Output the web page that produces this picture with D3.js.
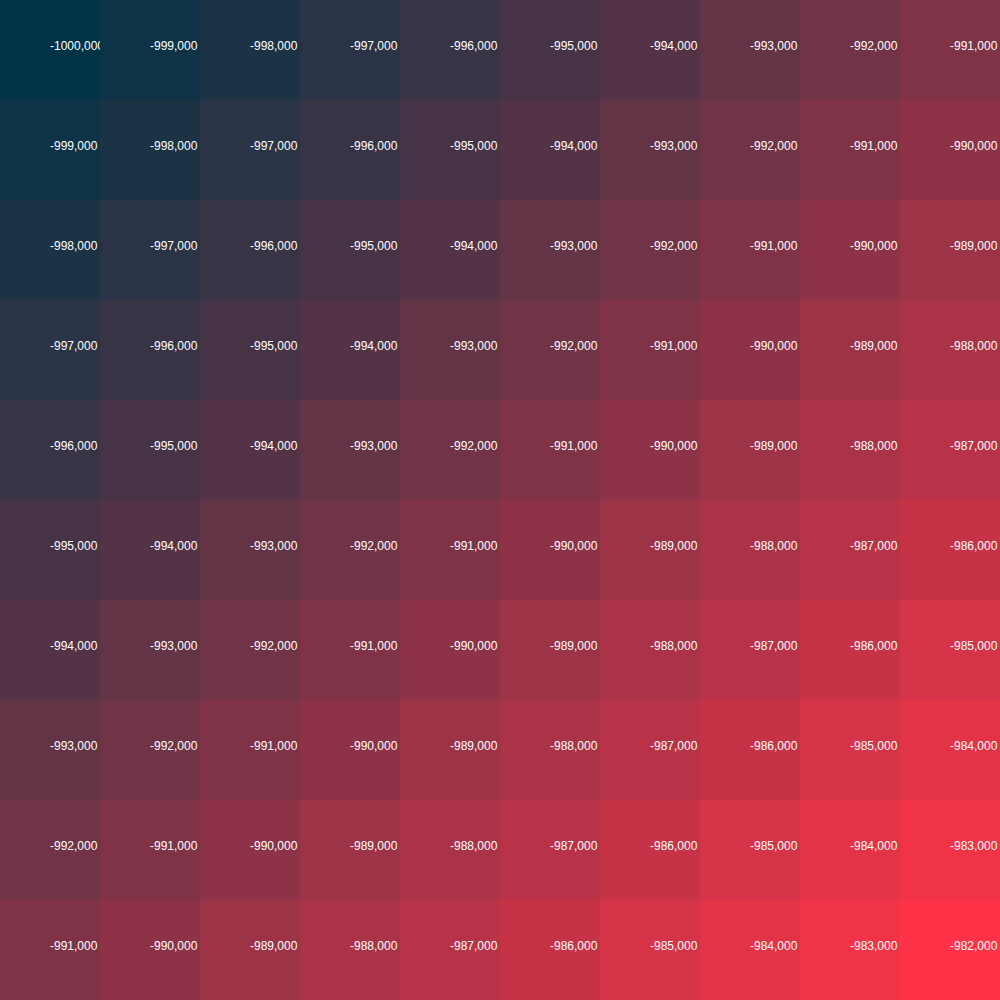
<!DOCTYPE html>
<html>
<head>
<meta charset="utf-8">
<script src="https://cdn.jsdelivr.net/npm/d3@7"></script>
<style>
html,body{margin:0;padding:0;background:#fff;}
svg{display:block;}
text{font-family:"Liberation Sans",Arial,sans-serif;font-size:12px;fill:#fff;}
</style>
</head>
<body>
<svg id="chart" width="1000" height="1000"></svg>
<script>
const rows = [0,1,2,3,4,5,6,7,8,9];
const cols = [0,1,2,3,4,5,6,7,8,9];
const values = [
  [-1000000,-999000,-998000,-997000,-996000,-995000,-994000,-993000,-992000,-991000],
  [-999000,-998000,-997000,-996000,-995000,-994000,-993000,-992000,-991000,-990000],
  [-998000,-997000,-996000,-995000,-994000,-993000,-992000,-991000,-990000,-989000],
  [-997000,-996000,-995000,-994000,-993000,-992000,-991000,-990000,-989000,-988000],
  [-996000,-995000,-994000,-993000,-992000,-991000,-990000,-989000,-988000,-987000],
  [-995000,-994000,-993000,-992000,-991000,-990000,-989000,-988000,-987000,-986000],
  [-994000,-993000,-992000,-991000,-990000,-989000,-988000,-987000,-986000,-985000],
  [-993000,-992000,-991000,-990000,-989000,-988000,-987000,-986000,-985000,-984000],
  [-992000,-991000,-990000,-989000,-988000,-987000,-986000,-985000,-984000,-983000],
  [-991000,-990000,-989000,-988000,-987000,-986000,-985000,-984000,-983000,-982000]
];
const labels = [
  ["-1000,000","-999,000","-998,000","-997,000","-996,000","-995,000","-994,000","-993,000","-992,000","-991,000"],
  ["-999,000","-998,000","-997,000","-996,000","-995,000","-994,000","-993,000","-992,000","-991,000","-990,000"],
  ["-998,000","-997,000","-996,000","-995,000","-994,000","-993,000","-992,000","-991,000","-990,000","-989,000"],
  ["-997,000","-996,000","-995,000","-994,000","-993,000","-992,000","-991,000","-990,000","-989,000","-988,000"],
  ["-996,000","-995,000","-994,000","-993,000","-992,000","-991,000","-990,000","-989,000","-988,000","-987,000"],
  ["-995,000","-994,000","-993,000","-992,000","-991,000","-990,000","-989,000","-988,000","-987,000","-986,000"],
  ["-994,000","-993,000","-992,000","-991,000","-990,000","-989,000","-988,000","-987,000","-986,000","-985,000"],
  ["-993,000","-992,000","-991,000","-990,000","-989,000","-988,000","-987,000","-986,000","-985,000","-984,000"],
  ["-992,000","-991,000","-990,000","-989,000","-988,000","-987,000","-986,000","-985,000","-984,000","-983,000"],
  ["-991,000","-990,000","-989,000","-988,000","-987,000","-986,000","-985,000","-984,000","-983,000","-982,000"]
];
const colorRange = ["#003346", "#ff3347"];

const W = 1000, H = 1000;
const x = d3.scaleBand().domain(cols).range([0, W]);
const y = d3.scaleBand().domain(rows).range([0, H]);
const color = d3.scaleLinear()
  .domain([d3.min(values.flat()), d3.max(values.flat())])
  .range(colorRange)
  .interpolate(d3.interpolateRgb);

const cells = [];
rows.forEach(r => cols.forEach(c => cells.push({r, c, v: values[r][c], label: labels[r][c]})));

const svg = d3.select("#chart");
const g = svg.selectAll("g.cell").data(cells).join("g")
  .attr("class", "cell")
  .attr("transform", d => `translate(${x(d.c)},${y(d.r)})`);
g.append("rect")
  .attr("width", x.bandwidth())
  .attr("height", y.bandwidth())
  .attr("fill", d => color(d.v));
g.append("text")
  .attr("x", x.bandwidth() / 2)
  .attr("y", y.bandwidth() / 2)
  .text(d => d.label);
</script>
</body>
</html>
